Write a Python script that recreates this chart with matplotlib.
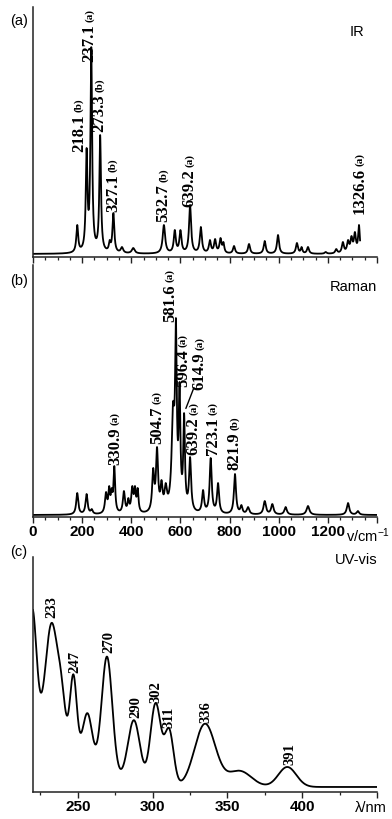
import numpy as np
import matplotlib.pyplot as plt
from matplotlib.ticker import MultipleLocator, FixedLocator

plt.rcParams['font.family'] = ['Liberation Sans', 'DejaVu Sans']
plt.rcParams['mathtext.default'] = 'regular'

# IR bands: centre / cm-1, peak height, half width
ir_pos = [180, 218.1, 237.1, 273.3, 312, 327.1, 362, 408, 532.7, 577, 600, 639.2, 683,
          720, 741, 763, 775, 818, 879, 943, 997, 1074, 1093, 1119, 1191, 1234, 1261,
          1282, 1296, 1310, 1326.6]
ir_height = [32, 109, 210, 122, 17, 44, 10, 9, 32, 27, 27, 52, 30,
             17, 18, 19, 15, 11, 13, 16, 22, 14, 10, 10, 5, 8, 15,
             17, 21, 25, 32]
ir_hw = [4.5, 4, 4, 4, 4, 4.5, 6, 7, 6, 5, 5, 5, 5,
         5, 5, 5, 4, 5, 5, 5, 5, 5, 4, 5, 5, 5, 5,
         5, 5, 5, 4]
ir_base = 3
ir_range = (0, 1331)

# Raman bands
ra_pos = [180, 218, 239, 297, 310, 320, 330.9, 370, 388, 404, 415, 426, 489, 504.7,
          523, 540, 570, 581.6, 596.4, 614.9, 639.2, 692, 723.1, 753, 821.9, 848, 875,
          943, 974, 1028, 1119, 1282, 1322]
ra_height = [24, 23, 8, 25, 31, 29, 51, 26, 19, 31, 31, 29, 49, 70,
             37, 34, 115, 199, 135, 104, 60, 27, 59, 34, 43, 12, 10,
             16, 13, 10, 11, 14, 6]
ra_hw = [5, 5, 5, 5, 4, 4, 4, 5, 4, 5, 4, 4, 5, 5,
         5, 6, 7, 4, 4, 4, 5, 5, 5, 5, 5, 5, 6,
         6, 6, 6, 7, 6, 6]
ra_base = 2
ra_range = (0, 1400)

# UV-vis bands (gaussian): centre / nm, amplitude, sigma
uv_pos = [220, 219.5, 232.5, 239, 247, 256.5, 269.5, 287.5, 302, 311, 335, 358, 390]
uv_amp = [60, 118, 108, 34, 72, 45, 115, 62, 82, 55, 63, 16, 20]
uv_sig = [30, 2.8, 4, 2.5, 2.2, 3, 3.5, 4, 3.5, 3, 7, 8, 6]
uv_base = 5
uv_range = (220, 450)

# peak labels
ir_lab = ['218.1', '237.1', '273.3', '327.1', '532.7', '639.2', '1326.6']
ir_tag = ['(b)', '(a)', '(b)', '(b)', '(b)', '(a)', '(a)']
ir_lx = [187, 229, 270, 326, 530, 638, 1329]
ir_ly = [105, 195, 125, 45, 35, 50, 43]

ra_lab = ['330.9', '504.7', '581.6', '596.4', '614.9', '639.2', '723.1', '821.9']
ra_tag = ['(a)', '(a)', '(a)', '(a)', '(a)', '(a)', '(a)', '(b)']
ra_lx = [333, 505, 557, 611, 679, 654, 733, 821]
ra_ly = [52, 73, 195, 130, 127, 62, 62, 47]

uv_lab = ['233', '247', '270', '290', '302', '311', '336', '391']
uv_lx = [232.5, 248, 270.5, 288.5, 302, 311, 335.4, 392]
uv_ly = [174, 119, 139, 74, 89, 64, 69, 27]


def lorentz_amps(pos, height, hw, base):
    # amplitudes so that the summed curve reaches the read heights at each centre
    p = np.array(pos, dtype=float)
    w = np.array(hw, dtype=float)
    m = w[None, :] ** 2 / ((p[:, None] - p[None, :]) ** 2 + w[None, :] ** 2)
    return np.linalg.solve(m, np.array(height, dtype=float) - base)


def lorentz(x, pos, amp, hw, base):
    y = np.full_like(x, base, dtype=float)
    for p, a, w in zip(pos, amp, hw):
        y += a * w ** 2 / ((x - p) ** 2 + w ** 2)
    return y


def gauss(x, pos, amp, sig, base):
    y = np.full_like(x, base, dtype=float)
    for p, a, s in zip(pos, amp, sig):
        y += a * np.exp(-(x - p) ** 2 / (2 * s ** 2))
    return y


def style(ax):
    for s in ['top', 'right']:
        ax.spines[s].set_visible(False)
    for s in ['left', 'bottom']:
        ax.spines[s].set_linewidth(1.1)
        ax.spines[s].set_color('#222222')
    ax.set_yticks([])
    ax.tick_params(axis='x', which='major', direction='out', length=4.5, width=1.0,
                   color='#222222', labelsize=11, pad=1.5)
    ax.tick_params(axis='x', which='minor', direction='out', length=2.5, width=0.9,
                   color='#222222')
    for t in ax.get_xticklabels():
        t.set_fontweight('bold')


def label_peaks(ax, xs, ys, labs, tags, fs, tfs):
    for i in range(len(labs)):
        t = ax.text(xs[i], ys[i], labs[i], rotation=90, ha='center', va='bottom',
                    family='Liberation Serif', fontweight='bold', fontsize=fs)
        if tags is not None:
            ax.annotate(tags[i], xy=(0.5, 1), xycoords=t, xytext=(0, 1.5),
                        textcoords='offset points', rotation=90, ha='center', va='bottom',
                        family='Liberation Serif', fontweight='bold', fontsize=tfs)


fig = plt.figure(figsize=(3.92, 8.19), dpi=100)
axa = fig.add_axes([0.0842, 0.6862, 0.8776, 0.3053])
axb = fig.add_axes([0.0842, 0.3687, 0.8776, 0.3077])
axc = fig.add_axes([0.0842, 0.0330, 0.8776, 0.2869])

# IR
x = np.linspace(ir_range[0], ir_range[1], 5000)
amp = lorentz_amps(ir_pos, ir_height, ir_hw, ir_base)
axa.plot(x, lorentz(x, ir_pos, amp, ir_hw, ir_base), color='black', lw=1.3)
axa.set_xlim(0, 1400)
axa.set_ylim(0, 250)
axa.xaxis.set_major_locator(MultipleLocator(200))
axa.xaxis.set_minor_locator(MultipleLocator(50))
axa.set_xticklabels([])
style(axa)
label_peaks(axa, ir_lx, ir_ly, ir_lab, ir_tag, 12, 8)
axa.text(0.962, 0.9, 'IR', transform=axa.transAxes, ha='right', va='center', fontsize=10.5)

# Raman
x = np.linspace(ra_range[0], ra_range[1], 5000)
amp = lorentz_amps(ra_pos, ra_height, ra_hw, ra_base)
axb.plot(x, lorentz(x, ra_pos, amp, ra_hw, ra_base), color='black', lw=1.3)
axb.set_xlim(0, 1400)
axb.set_ylim(0, 252)
axb.xaxis.set_minor_locator(MultipleLocator(50))
axb.set_xticks([0, 200, 400, 600, 800, 1000, 1200, 1400])
axb.set_xticklabels(['0', '200', '400', '600', '800', '1000', '1200', ''])
style(axb)
label_peaks(axb, ra_lx, ra_ly, ra_lab, ra_tag, 12, 8)
axb.annotate('', xy=(618, 106), xytext=(659, 132),
             arrowprops=dict(arrowstyle='-', color='black', lw=1.0))
axb.text(1.0, 0.913, 'Raman', transform=axb.transAxes, ha='right', va='center', fontsize=10.5)
axb.annotate('v/cm$^{-1}$', xy=(1362, 0), xycoords=('data', 'axes fraction'),
             xytext=(0, -6.5), textcoords='offset points', ha='center', va='top', fontsize=10.5)

# UV-vis
x = np.linspace(uv_range[0], uv_range[1], 2000)
axc.plot(x, gauss(x, uv_pos, uv_amp, uv_sig, uv_base), color='black', lw=1.3)
axc.set_xlim(220, 450)
axc.set_ylim(0, 235)
axc.set_xticks([250, 300, 350, 400, 450])
axc.set_xticklabels(['250', '300', '350', '400', ''])
axc.xaxis.set_minor_locator(FixedLocator([225, 275, 325, 375, 425]))
style(axc)
label_peaks(axc, uv_lx, uv_ly, uv_lab, None, 10.5, 8)
axc.text(1.0, 0.987, 'UV-vis', transform=axc.transAxes, ha='right', va='center', fontsize=10.5)
axc.annotate('λ/nm', xy=(446, 0), xycoords=('data', 'axes fraction'),
             xytext=(0, -6.5), textcoords='offset points', ha='center', va='top', fontsize=10.5)

fig.text(10 / 392, 1 - 21 / 819, '(a)', ha='left', va='center', fontsize=10.5)
fig.text(10 / 392, 1 - 281 / 819, '(b)', ha='left', va='center', fontsize=10.5)
fig.text(10 / 392, 1 - 552 / 819, '(c)', ha='left', va='center', fontsize=10.5)

fig.savefig('out.png', dpi=100)
